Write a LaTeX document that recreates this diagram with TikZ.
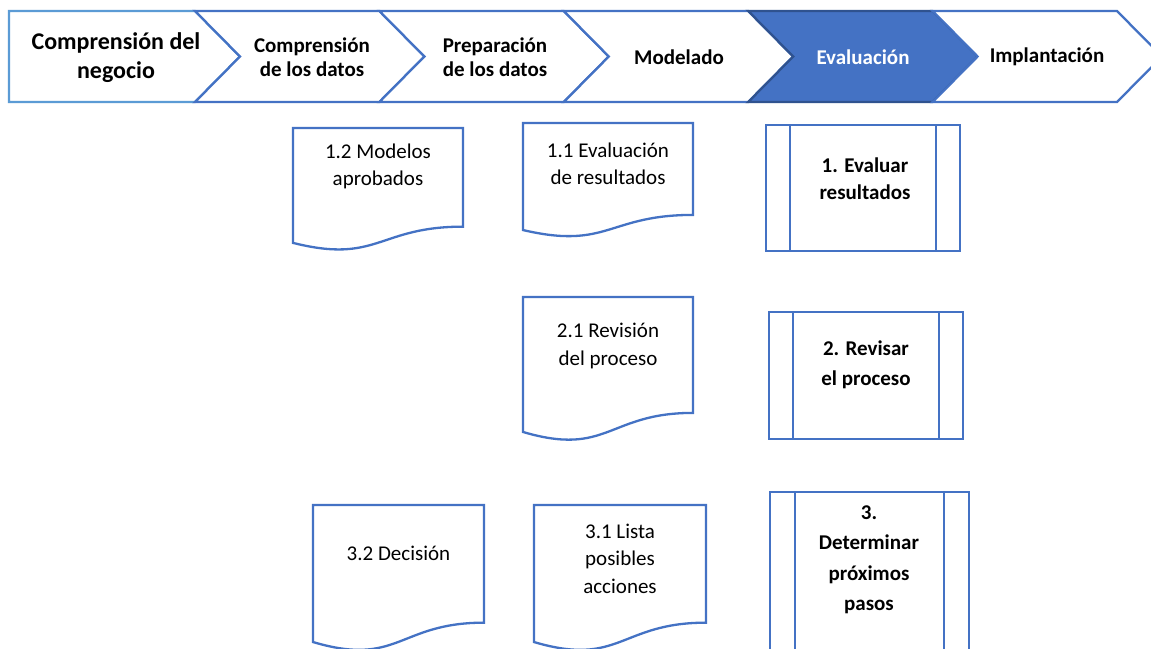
\documentclass[tikz,border=0pt]{standalone}
\usepackage{fontspec}
\setmainfont{Carlito}
\definecolor{edgeblue}{HTML}{4472C4}
\definecolor{lightedge}{HTML}{5B9BD5}
\definecolor{darkedge}{HTML}{2F528F}

\begin{document}
\begin{tikzpicture}[x=1pt, y=-1pt, line join=miter,
  shapeline/.style={draw=edgeblue, line width=2.3pt, fill=white},
  stagetxt/.style={font=\bfseries\fontsize{21}{24}\selectfont, align=center, inner sep=0pt},
  doctxt/.style={font=\fontsize{21}{27.5}\selectfont, align=center, inner sep=0pt},
  proctxt/.style={font=\bfseries\fontsize{21}{30.5}\selectfont, align=center, inner sep=0pt}]

\useasboundingbox[fill=white] (0,0) rectangle (1151,648);

% ---- process stages (chevrons) ----
\draw[draw=lightedge, line width=2.3pt, fill=white]
  (9,11) -- (195,11) -- (240,56.5) -- (195,102) -- (9,102) -- cycle;
\foreach \L/\R in {195/379.4, 379.4/563.8, 563.8/748.2}{
  \draw[shapeline] (\L,11) -- (\R,11) -- (\R+45,56.5) -- (\R,102) -- (\L,102) -- (\L+45,56.5) -- cycle;
}
\draw[draw=darkedge, line width=2.3pt, fill=edgeblue]
  (748.2,11) -- (932.6,11) -- (977.6,56.5) -- (932.6,102) -- (748.2,102) -- (793.2,56.5) -- cycle;
\draw[shapeline] (932.6,11) -- (1117,11) -- (1162,56.5) -- (1117,102) -- (932.6,102) -- (977.6,56.5) -- cycle;

\node[stagetxt, font=\bfseries\fontsize{24}{29}\selectfont] (s1) at (116,57.5) {Comprensión del\\negocio};
\node[stagetxt] (s2) at (312,57) {Comprensión\\de los datos};
\node[stagetxt] (s3) at (495,57) {Preparación\\de los datos};
\node[stagetxt] (s4) at (679,57) {Modelado};
\node[stagetxt, text=white] (s5) at (863,57) {Evaluación};
\node[stagetxt] (s6) at (1047,57) {Implantación};

% ---- document shapes: left, right, top, height ----
\foreach \l/\r/\t/\h in {293/463/128/123, 523/693/123/114.6, 523/693/297/144.5,
                         313/484/505/146.7, 534/706/505/146.7}{
  \draw[shapeline] (\l,\t) -- (\r,\t) -- (\r,\t+0.802*\h)
    .. controls ({(\l+\r)/2},\t+0.802*\h) and ({(\l+\r)/2},\t+1.1075*\h) .. (\l,\t+0.934*\h) -- cycle;
}
\node[doctxt] (d12) at (378,166.5) {1.2 Modelos\\aprobados};
\node[doctxt] (d11) at (608,164) {1.1 Evaluación\\de resultados};
\node[doctxt] (d21) at (608,346) {2.1 Revisión\\del proceso};
\node[doctxt] (d32) at (398.5,553) {3.2 Decisión};
\node[doctxt] (d31) at (620,558.5) {3.1 Lista\\posibles\\acciones};

% ---- predefined process boxes: left, right, top, bottom ----
\foreach \l/\r/\t/\b in {766/960/125/251, 769/963/312/439, 770/969/492/662}{
  \draw[shapeline] (\l,\t) rectangle (\r,\b);
  \draw[draw=edgeblue, line width=2.3pt] ({\l+(\r-\l)/8},\t) -- ({\l+(\r-\l)/8},\b)
                                         ({\r-(\r-\l)/8},\t) -- ({\r-(\r-\l)/8},\b);
}
\node[proctxt, font=\bfseries\fontsize{21}{27}\selectfont] (p1) at (865,178.5) {1. Evaluar\\resultados};
\node[proctxt] (p2) at (866,365) {2. Revisar\\el proceso};
\node[proctxt] (p3) at (869,560) {3.\\Determinar\\próximos\\pasos};

\end{tikzpicture}
\end{document}
